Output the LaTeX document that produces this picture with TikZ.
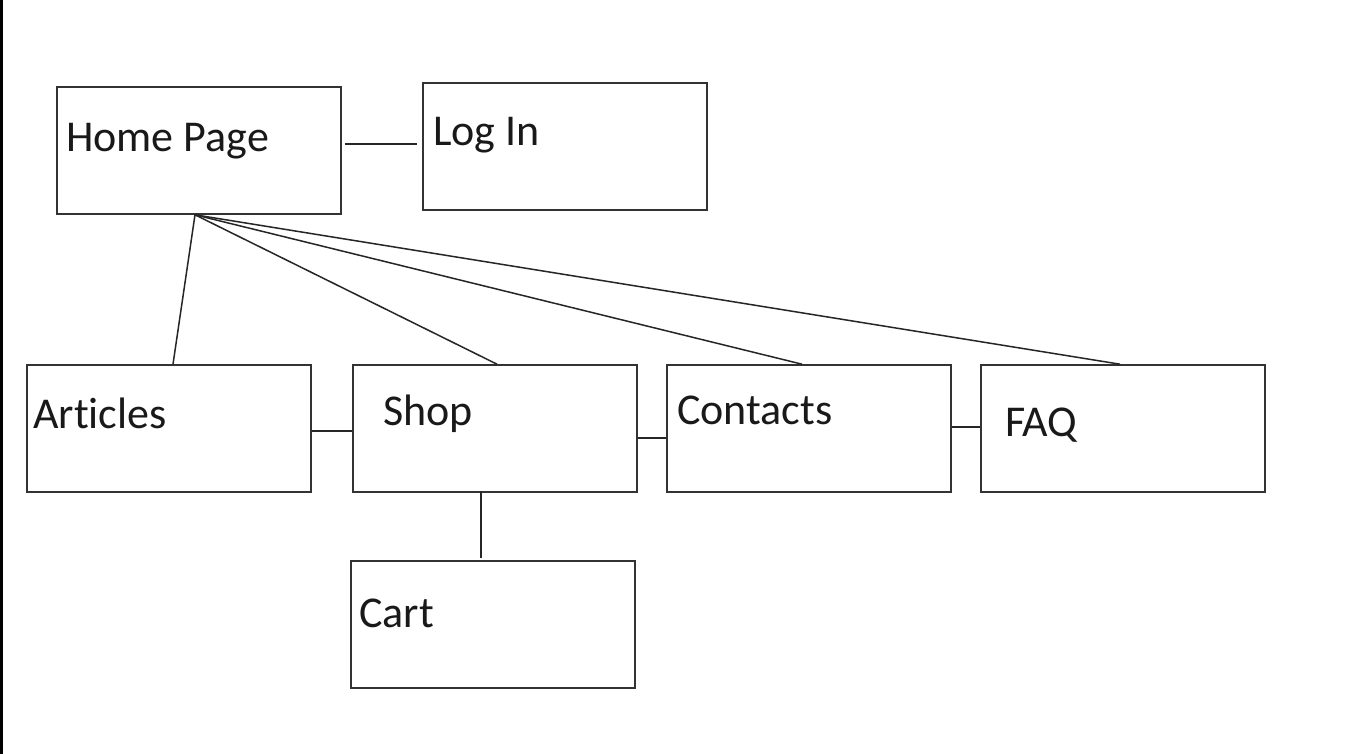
\documentclass[tikz,border=0pt]{standalone}
\usepackage{fontspec}
\setmainfont[Ligatures=CommonOff]{Carlito}
\usetikzlibrary{calc}
\tikzset{
  pagebox/.style={draw=black!80, line width=1.6pt, minimum width=284pt, minimum height=127pt, inner sep=0pt},
  boxlabel/.style={anchor=base west, inner sep=0pt, font=\fontsize{44}{52}\selectfont, text=black!90},
  link/.style={draw=black!85, line width=1.5pt}
}
\begin{document}
\begin{tikzpicture}[x=1pt,y=-1pt]
\useasboundingbox (0,0) rectangle (1366,754);
\fill[white] (0,0) rectangle (1366,754);
\draw[line width=2.5pt, black] (1.25,0) -- (1.25,754);
% boxes
\node[pagebox] (home) at (199,150.5) {};
\node[pagebox] (login) at (565,146.5) {};
\node[pagebox] (articles) at (169,428.5) {};
\node[pagebox] (shop) at (495,428.5) {};
\node[pagebox] (contacts) at (809,428.5) {};
\node[pagebox] (faq) at (1123,428.5) {};
\node[pagebox] (cart) at (493,624.5) {};
% labels
\node[boxlabel] (homet) at (66,152) {Home Page};
\node[boxlabel] (logint) at (433,146) {Log In};
\node[boxlabel] (articlest) at (33,428) {Articles};
\node[boxlabel] (shopt) at (383,425) {Shop};
\node[boxlabel] (contactst) at (677,424) {Contacts};
\node[boxlabel] (faqt) at (1005,436) {FAQ};
\node[boxlabel] (cartt) at (359,627) {Cart};
% connectors
\coordinate (hub) at ([xshift=-4pt]home.south);
\draw[link] ([xshift=3pt,yshift=6.5pt]home.east) -- ([xshift=-5pt,yshift=6.5pt]home.east -| login.west);
\draw[link] (hub) -- ([xshift=4pt]articles.north);
\draw[link] (hub) -- ([xshift=2pt]shop.north);
\draw[link] (hub) -- ([xshift=-7pt]contacts.north);
\draw[link] (hub) -- ([xshift=-3pt]faq.north);
\draw[link] ([yshift=-2.5pt]articles.east) -- ([yshift=-2.5pt]articles.east -| shop.west);
\draw[link] ([yshift=-9.5pt]shop.east) -- ([yshift=-9.5pt]shop.east -| contacts.west);
\draw[link] ([yshift=1.5pt]contacts.east) -- ([yshift=1.5pt]contacts.east -| faq.west);
\draw[link] ([xshift=-14pt,yshift=2pt]shop.south) -- ([xshift=-14pt,yshift=2pt]shop.south |- cart.north);
\end{tikzpicture}
\end{document}
